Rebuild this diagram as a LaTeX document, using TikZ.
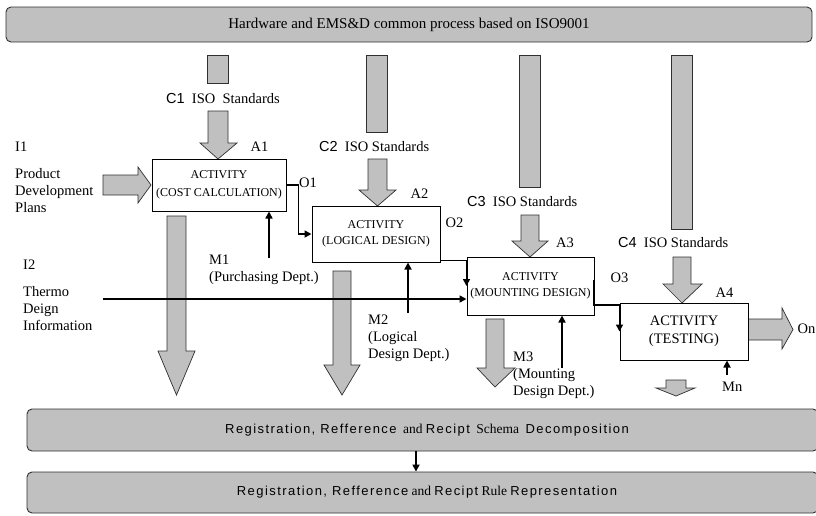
\documentclass[tikz,border=0pt]{standalone}
\usepackage{fontspec}
\setmainfont{Liberation Serif}
\newfontfamily\plainsans{Liberation Sans}
\newfontfamily\spacedsans{Liberation Sans}[LetterSpace=11]
\usetikzlibrary{arrows.meta,calc}

\definecolor{panelgray}{HTML}{C0C0C0}
\definecolor{edgegray}{HTML}{303030}

\tikzset{
  lbl/.style={font=\fontsize{14.5}{17}\selectfont, inner sep=0pt, align=left},
  actbox/.style={draw=black, line width=1pt, fill=white, inner sep=0pt, align=center},
  band/.style={draw=edgegray, fill=panelgray, line width=0.9pt, rounded corners=5pt, inner sep=0pt},
  fat/.style={draw=edgegray, fill=panelgray, line width=0.7pt, line join=miter},
  conn/.style={line width=1.6pt, -{Triangle[length=7pt,width=7pt]}},
}
\newcommand\serifword[1]{{\fontsize{13.5}{15}\selectfont #1}}

% gray block arrow pointing down:
% shaft left, shaft right, top, neck, head left, head right, tip
\newcommand\fatdown[7]{%
  \filldraw[fat] (#1,#3) -- (#2,#3) -- (#2,#4) -- (#6,#4) -- ({(#1+#2)/2},#7)
    -- (#5,#4) -- (#1,#4) -- cycle;}
% gray block arrow pointing right:
% left, neck x, shaft top, shaft bottom, head top, head bottom, tip x
\newcommand\fatright[7]{%
  \filldraw[fat] (#1,#3) -- (#2,#3) -- (#2,#5) -- (#7,{(#3+#4)/2})
    -- (#2,#6) -- (#2,#4) -- (#1,#4) -- cycle;}

\begin{document}
\begin{tikzpicture}[x=1pt,y=-1pt]
\useasboundingbox (0,0) rectangle (816,515);
\clip (0,0) rectangle (816,515);

% common process band
\node[band, minimum width=806pt, minimum height=35pt,
      font=\fontsize{15}{18}\selectfont] (hw) at (409,24.5)
  {Hardware and EMS\&D common process based on ISO9001};

% control stubs hanging from the band
\filldraw[fat] (207,55) rectangle (228,83);
\filldraw[fat] (366,55) rectangle (387,132);
\filldraw[fat] (519,55) rectangle (540,187);
\filldraw[fat] (671,55) rectangle (692,229);

% control labels
\node[lbl, anchor=west] (c1) at (166,99) {{\plainsans C1}\ \ ISO\ \ Standards};
\node[lbl, anchor=west] (c2) at (319,147) {{\plainsans C2}\ \ ISO Standards};
\node[lbl, anchor=west] (c3) at (467,202) {{\plainsans C3}\ \ ISO Standards};
\node[lbl, anchor=west] (c4) at (618,243) {{\plainsans C4}\ \ ISO Standards};

% control arrows into the activities
\fatdown{208}{228}{111}{143}{200}{237}{159}
\fatdown{368}{387}{159}{190}{359}{396}{206}
\fatdown{521}{539}{215}{241}{512}{548}{257}
\fatdown{673}{691}{257}{284}{663}{702}{303}

% outputs leaving the activities downwards
\fatdown{167}{186}{216}{351}{158}{195}{395}
\fatdown{333}{351}{271}{365}{324}{360}{395}
\fatdown{486}{504}{319}{368}{477}{515}{387}
\fatdown{666}{686}{380}{388}{656}{695}{396}

% input I1 and final output On
\fatright{103}{138}{175}{195}{167}{203}{151}
\fatright{748}{782}{319}{340}{308}{349}{793}

% activities
\node[actbox, minimum width=134pt, minimum height=52pt,
      font=\fontsize{12}{18}\selectfont] (a1) at (219,185)
  {ACTIVITY\\(COST CALCULATION)};
\node[actbox, minimum width=128pt, minimum height=56pt,
      font=\fontsize{12}{15.5}\selectfont] (a2) at (376,234)
  {ACTIVITY\\(LOGICAL DESIGN)};
\node[actbox, minimum width=127pt, minimum height=58pt,
      font=\fontsize{12}{15.5}\selectfont] (a3) at (530.5,286)
  {ACTIVITY\\(MOUNTING DESIGN)};
\node[actbox, minimum width=128pt, minimum height=57pt,
      font=\fontsize{14.5}{18}\selectfont] (a4) at (684,331.5)
  {ACTIVITY\\(TESTING)};

% activity, output and input labels
\node[lbl, anchor=center] (la1) at (259.5,147) {A1};
\node[lbl, anchor=center] (la2) at (419.5,194) {A2};
\node[lbl, anchor=center] (la3) at (565,243) {A3};
\node[lbl, anchor=center] (la4) at (724.5,293) {A4};
\node[lbl, anchor=center] (lo1) at (308,183) {O1};
\node[lbl, anchor=center] (lo2) at (454.5,223) {O2};
\node[lbl, anchor=center] (lo3) at (619.5,278) {O3};
\node[lbl, anchor=west] (lon) at (797.5,329) {On};
\node[lbl, anchor=west] (li1) at (15,147) {I1};
\node[lbl, anchor=north west] (li1t) at (15,168) {Product\\Development\\Plans};
\node[lbl, anchor=west] (li2) at (23,265) {I2};
\node[lbl, anchor=north west] (li2t) at (23,286) {Thermo\\Deign\\Information};
\node[lbl, anchor=north west] (lm1) at (209,255) {M1\\(Purchasing Dept.)};
\node[lbl, anchor=north west] (lm2) at (368,315) {M2\\(Logical\\Design Dept.)};
\node[lbl, anchor=north west] (lm3) at (513,352) {M3\\(Mounting\\Design Dept.)};
\node[lbl, anchor=west] (lmn) at (722,387) {Mn};

% mechanisms
\coordinate (m1s) at (269,258);
\coordinate (m2s) at (408,313);
\coordinate (m3s) at (562,368);
\coordinate (mns) at (727,375);
\draw[conn] (m1s) -- (m1s |- a1.south);
\draw[conn] (m2s) -- (m2s |- a2.south);
\draw[conn] (m3s) -- (m3s |- a3.south);
\draw[conn] (mns) -- (mns |- a4.south);

% input I2
\coordinate (i2s) at (103,299);
\draw[conn] (i2s) -- (i2s -| a3.west);

% outputs chaining the activities
\draw[conn] (a1.east) -- ++(12,0) |- (a2.west);
\draw[conn] ([yshift=2pt]a2.south east) -| (a3.west);
\coordinate (o3s) at (594,280);
\coordinate (o3k) at (594,305);
\draw[conn] (o3s) -- (o3k) -| (a4.west);

% schema and rule bands
\node[band, minimum width=791pt, minimum height=42pt] (bar1) at (422.5,430) {};
\node[band, minimum width=791pt, minimum height=41pt] (bar2) at (422.5,492.5) {};
\node[inner sep=0pt, font=\fontsize{13}{15}\selectfont] (bar1t) at (427,430)
  {{\spacedsans Registration, Refference}\ \ \serifword{and} {\spacedsans Recipt}\ \ \serifword{Schema}\ \ {\spacedsans Decomposition}};
\node[inner sep=0pt, font=\fontsize{13}{15}\selectfont] (bar2t) at (427,492)
  {{\spacedsans Registration,\ Refference} \serifword{and} {\spacedsans Recipt} \serifword{Rule} {\spacedsans Representation}};
\draw[conn] ([xshift=-6.5pt]bar1.south) -- ([xshift=-6.5pt]bar2.north);

\end{tikzpicture}
\end{document}
